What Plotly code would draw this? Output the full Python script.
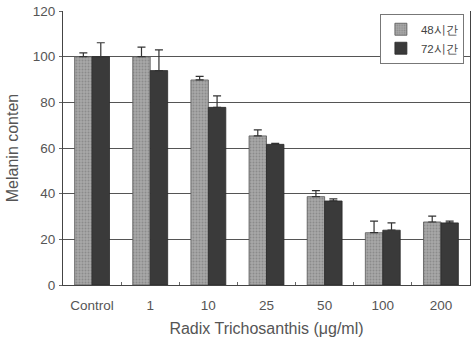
import plotly.graph_objects as go

categories = ["Control", "1", "10", "25", "50", "100", "200"]
h48 = [100, 100, 89.8, 65.3, 38.7, 22.9, 27.6]
h48_err = [1.7, 4.2, 1.6, 2.6, 2.6, 5.1, 2.6]
h72 = [100, 93.9, 77.8, 61.6, 36.8, 24.0, 27.2]
h72_err = [6.1, 9.1, 5.0, 0.4, 0.9, 3.2, 0.8]
series_names = ["48시간", "72시간"]
y_ticks = [0, 20, 40, 60, 80, 100, 120]

FONT = "Liberation Sans, Arial, sans-serif"

fig = go.Figure()
fig.add_trace(go.Bar(
    x=categories, y=h48, name=series_names[0],
    marker=dict(color="#9a9a9a", line=dict(color="#555555", width=0.8),
                pattern=dict(shape=".", fgcolor="#6e6e6e", bgcolor="#a8a8a8", size=3, solidity=0.35)),
    error_y=dict(type="data", array=h48_err, arrayminus=[0]*7, symmetric=False,
                 color="#333333", thickness=1.2, width=4),
))
fig.add_trace(go.Bar(
    x=categories, y=h72, name=series_names[1],
    marker=dict(color="#3a3a3a", line=dict(color="#2a2a2a", width=0.8)),
    error_y=dict(type="data", array=h72_err, arrayminus=[0]*7, symmetric=False,
                 color="#333333", thickness=1.2, width=4),
))

fig.update_layout(
    width=471, height=343,
    margin=dict(l=63, r=1, t=11, b=58),
    paper_bgcolor="white", plot_bgcolor="white",
    barmode="group", bargap=0.4, bargroupgap=0,
    font=dict(family=FONT, size=13, color="#555555"),
    legend=dict(x=0.985, y=0.99, xanchor="right", yanchor="top",
                bordercolor="#777777", borderwidth=1, bgcolor="white",
                font=dict(size=11.5, color="#444444"), itemwidth=30,
                tracegroupgap=0),
    xaxis=dict(
        type="category", range=[-0.5, 6.5],
        showline=True, linecolor="#444444", linewidth=1.2, mirror=False,
        ticks="inside", tickson="boundaries", ticklen=3, tickcolor="#666666",
        tickfont=dict(size=13.5, color="#555555"),
        ticklabelstandoff=8,
        title=dict(text="Radix Trichosanthis (μg/ml)", font=dict(size=16, color="#555555"), standoff=10),
        showgrid=False,
    ),
    yaxis=dict(
        range=[0, 120], tickvals=y_ticks,
        showline=True, linecolor="#444444", linewidth=1.2, mirror=True,
        showgrid=True, gridcolor="#555555", gridwidth=1,
        ticks="outside", ticklen=3, tickcolor="#666666",
        tickfont=dict(size=13.5, color="#555555"),
        ticklabelstandoff=1,
        title=dict(text="Melanin conten", font=dict(size=16, color="#555555"), standoff=10),
        zeroline=False,
    ),
)

fig.write_html("out.html")
